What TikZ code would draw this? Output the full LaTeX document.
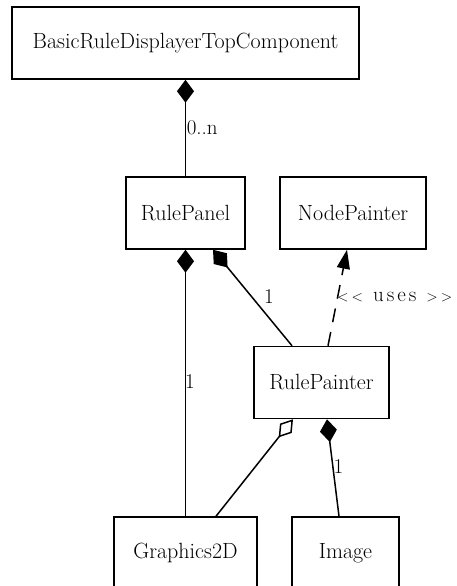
\documentclass[tikz,border=0pt]{standalone}
\usetikzlibrary{arrows.meta}
\tikzset{
  comp/.tip={Diamond[length=23pt,width=17pt]},
  aggr/.tip={Diamond[open,length=23pt,width=15pt,fill=white]},
  usestip/.tip={Triangle[length=19pt,width=13pt]}}
\newcommand{\ltsym}{{\fontsize{15}{18}\selectfont\textless}}
\newcommand{\gtsym}{{\fontsize{15}{18}\selectfont\textgreater}}
\begin{document}
\begin{tikzpicture}[x=1pt,y=-1pt,
  umlbox/.style={draw,line width=1.5pt,inner sep=0pt,minimum height=72pt,font=\fontsize{22}{26}\selectfont},
  conn/.style={line width=1.5pt},
  lbl/.style={inner sep=0pt,font=\fontsize{21}{25}\selectfont}]
\useasboundingbox (0,0) rectangle (456,586);
\clip (0,0) rectangle (456,586);
\node[umlbox,minimum width=347pt] (top) at (185.5,43) {BasicRuleDisplayerTopComponent};
\node[umlbox,minimum width=119pt] (rpanel) at (185.5,213) {RulePanel};
\node[umlbox,minimum width=146pt] (npaint) at (353,213) {NodePainter};
\node[umlbox,minimum width=135pt] (rpaint) at (321.5,382.5) {RulePainter};
\node[umlbox,minimum width=143pt] (g2d) at (185.5,553) {Graphics2D};
\node[umlbox,minimum width=107pt] (img) at (345.5,553) {Image};
\draw[conn,comp-] (top.south) -- node[lbl,pos=0.5,anchor=west,xshift=0.5pt]{0..n} (rpanel.north);
\draw[conn,comp-] (rpanel.south) -- (g2d.north);
\node[lbl] (l1) at (190,382) {1};
\draw[conn,comp-] ([xshift=27.5pt]rpanel.south) -- ([xshift=-29.5pt]rpaint.north);
\node[lbl] (l2) at (269,297) {1};
\draw[conn,dash pattern=on 14pt off 10pt,-usestip] ([xshift=6.5pt]rpaint.north) -- ([xshift=-6pt]npaint.south);
\node[lbl,anchor=west] (l3) at (337,297) {\ltsym\hspace{3pt}\ltsym\hspace{10pt}u\hspace{3pt}s\hspace{3pt}e\hspace{3pt}s\hspace{10pt}\gtsym\hspace{3pt}\gtsym};
\draw[conn,aggr-] ([xshift=-28.5pt]rpaint.south) -- ([xshift=30.5pt]g2d.north);
\draw[conn,comp-] ([xshift=5.5pt]rpaint.south) -- ([xshift=-6.5pt]img.north);
\node[lbl] (l4) at (338.5,467) {1};
\end{tikzpicture}
\end{document}
